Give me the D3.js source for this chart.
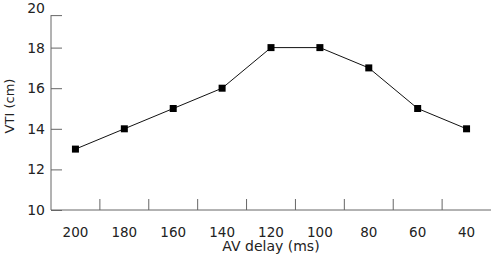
<!DOCTYPE html>
<html>
<head>
<meta charset="utf-8">
<script src="https://cdn.jsdelivr.net/npm/d3@7"></script>
<style>
  body { margin: 0; background: #fff; overflow: hidden; }
  svg { display: block; }
  text { font-family: "DejaVu Sans", sans-serif; fill: #222; }
</style>
</head>
<body>
<svg id="chart" width="492" height="254"></svg>
<script>
// chart values
var delays = ['200', '180', '160', '140', '120', '100', '80', '60', '40'];
var vti = [13, 14, 15, 16, 18, 18, 17, 15, 14];
var yTicks = [10, 12, 14, 16, 18, 20];

var svgWidth = 492, svgHeight = 254;
var margin = { top: 7, right: 1, bottom: 44, left: 51 };

var svg = d3.select('#chart');
var g = svg.append('g')
    .attr('transform', `translate(${margin.left},${margin.top})`);

var innerWidth = svgWidth - margin.left - margin.right;
var innerHeight = svgHeight - margin.top - margin.bottom;

var x = d3.scaleBand()
    .domain(delays)
    .range([0, innerWidth]);

var y = d3.scaleLinear()
    .domain([10, 20])
    .range([innerHeight, 0]);

var axisColor = '#666';
// the original figure's axis line and top tick stop a little short of 20
var axisTop = y(19.6);

// y axis, ticks pointing inward
var yAxis = g.append('g')
    .call(d3.axisLeft(y).tickValues(yTicks).tickSize(-11).tickPadding(6));
yAxis.select('.domain').attr('stroke', axisColor).attr('d', `M0,${axisTop}V${innerHeight}`);
yAxis.selectAll('.tick line')
    .attr('stroke', axisColor)
    .attr('transform', d => d === 20 ? `translate(0,${axisTop - y(20)})` : null);
yAxis.selectAll('.tick text')
    .attr('font-size', 14)
    .attr('fill', '#222')
    .attr('y', d => d === 20 ? 1.5 : 0);

// x axis: labels centred in bands, ticks at band boundaries
var xAxis = g.append('g')
    .attr('transform', `translate(0,${innerHeight})`)
    .call(d3.axisBottom(x).tickSize(0).tickPadding(17));
xAxis.select('.domain').attr('stroke', axisColor).attr('d', `M0,0H${innerWidth}`);
xAxis.selectAll('.tick text').attr('font-size', 13.5).attr('fill', '#222');

g.selectAll('.xsep')
    .data(delays.slice(1))
    .join('line')
    .classed('xsep', true)
    .attr('x1', d => x(d))
    .attr('x2', d => x(d))
    .attr('y1', innerHeight)
    .attr('y2', innerHeight - 11)
    .attr('stroke', axisColor);

// axis titles
svg.append('text')
    .attr('x', margin.left + innerWidth / 2)
    .attr('y', 250.5)
    .attr('text-anchor', 'middle')
    .attr('font-size', 14)
    .text('AV delay (ms)');

svg.append('text')
    .attr('transform', `translate(14,106) rotate(-90)`)
    .attr('text-anchor', 'middle')
    .attr('font-size', 13)
    .text('VTI (cm)');

// line and markers
var pts = delays.map((d, i) => ({ d: d, v: vti[i] }));

var line = d3.line()
    .x(p => x(p.d) + x.bandwidth() / 2)
    .y(p => y(p.v));

g.append('path')
    .datum(pts)
    .attr('d', line)
    .attr('fill', 'none')
    .attr('stroke', '#111')
    .attr('stroke-width', 1);

g.selectAll('.marker')
    .data(pts)
    .join('rect')
    .classed('marker', true)
    .attr('x', p => x(p.d) + x.bandwidth() / 2 - 3.5)
    .attr('y', p => y(p.v) - 3.5)
    .attr('width', 7)
    .attr('height', 7)
    .attr('fill', '#000');
</script>
</body>
</html>
